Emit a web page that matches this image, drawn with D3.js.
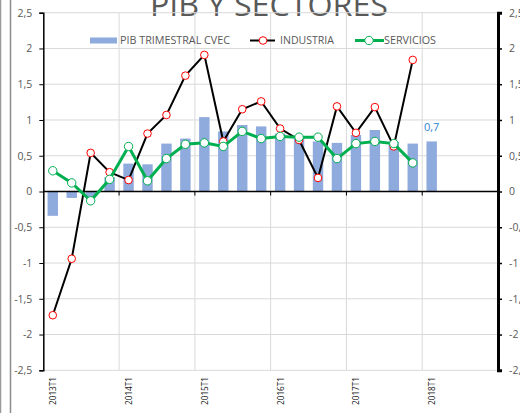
<!DOCTYPE html>
<html>
<head>
<meta charset="utf-8">
<script src="https://cdn.jsdelivr.net/npm/d3@7"></script>
<style>
  body { margin: 0; background: #fff; }
  svg { display: block; font-family: "Open Sans", sans-serif; }
</style>
</head>
<body>
<svg width="520" height="413"></svg>
<script>
// quarters 2013T1 .. 2018T4
var years = [2013, 2014, 2015, 2016, 2017, 2018];
var quarters = [];
years.forEach(function(y) { for (var q = 1; q <= 4; q++) quarters.push(y + "T" + q); });

var pib = [-0.34, -0.09, -0.08, 0.2, 0.39, 0.38, 0.67, 0.74, 1.04, 0.84, 0.93, 0.91,
           0.81, 0.75, 0.70, 0.68, 0.79, 0.86, 0.69, 0.67, 0.70];
var industria = [-1.73, -0.94, 0.54, 0.27, 0.16, 0.81, 1.07, 1.62, 1.91, 0.70, 1.15, 1.26,
                 0.88, 0.72, 0.19, 1.19, 0.82, 1.18, 0.63, 1.84];
var servicios = [0.29, 0.12, -0.13, 0.17, 0.63, 0.15, 0.46, 0.66, 0.68, 0.63, 0.84, 0.74,
                 0.77, 0.76, 0.76, 0.46, 0.67, 0.70, 0.67, 0.40];
var yTicks = [-2.5, -2, -1.5, -1, -0.5, 0, 0.5, 1, 1.5, 2, 2.5];

var svg = d3.select("svg");
var pLeft = 43.3, pRight = 498, pTop = 12.7, pBottom = 370.3;
var fmt = function(v) { return String(v).replace(".", ","); };

var x = d3.scaleBand().domain(quarters).range([pLeft, pRight])
  .paddingInner(0.45).paddingOuter(0.225);
var step = x.step();
var cx = function(i) { return x(quarters[i]) + x.bandwidth() / 2; };
var y = d3.scaleLinear().domain([-2.5, 2.5]).range([pBottom, pTop]);

// frame lines at left
svg.append("line").attr("x1", 0.5).attr("x2", 0.5).attr("y1", 0).attr("y2", 413)
  .attr("stroke", "#9a9a9a").attr("stroke-width", 1.5);
svg.append("line").attr("x1", 10.5).attr("x2", 10.5).attr("y1", 0).attr("y2", 413)
  .attr("stroke", "#8c8c8c").attr("stroke-width", 1.5);

// title (cut off at top)
svg.append("text").attr("x", 269).attr("y", 16).attr("text-anchor", "middle")
  .attr("font-size", 31).attr("fill", "#595959")
  .attr("textLength", 238).attr("lengthAdjust", "spacingAndGlyphs")
  .text("PIB Y SECTORES");

// horizontal grid
svg.append("g").selectAll("line").data(yTicks).enter().append("line")
  .attr("x1", pLeft).attr("x2", pRight)
  .attr("y1", function(d) { return y(d); }).attr("y2", function(d) { return y(d); })
  .attr("stroke", "#d9d9d9").attr("stroke-width", 1);

// vertical grid every 4 quarters at category boundaries
var vgrid = [4, 8, 12, 16, 20];
svg.append("g").selectAll("line").data(vgrid).enter().append("line")
  .attr("x1", function(d) { return pLeft + d * step; })
  .attr("x2", function(d) { return pLeft + d * step; })
  .attr("y1", pTop).attr("y2", pBottom)
  .attr("stroke", "#d9d9d9").attr("stroke-width", 1);

// bars
svg.append("g").selectAll("rect").data(pib).enter().append("rect")
  .attr("x", function(d, i) { return x(quarters[i]); })
  .attr("width", x.bandwidth())
  .attr("y", function(d) { return y(Math.max(0, d)); })
  .attr("height", function(d) { return Math.abs(y(d) - y(0)); })
  .attr("fill", "#8faadc");

// bar label for the last quarter
svg.append("text")
  .attr("x", cx(pib.length - 1)).attr("y", y(pib[pib.length - 1]) - 10)
  .attr("text-anchor", "middle").attr("font-size", 11).attr("fill", "#2e86d1")
  .text(fmt(pib[pib.length - 1]));

// zero axis with ticks every 4 quarters
svg.append("line").attr("x1", pLeft).attr("x2", pRight).attr("y1", y(0)).attr("y2", y(0))
  .attr("stroke", "#000").attr("stroke-width", 1.5);
svg.append("g").selectAll("line").data(vgrid).enter().append("line")
  .attr("x1", function(d) { return pLeft + d * step; })
  .attr("x2", function(d) { return pLeft + d * step; })
  .attr("y1", y(0)).attr("y2", y(0) + 4)
  .attr("stroke", "#000").attr("stroke-width", 1);

// left axis
var yAxisL = svg.append("g").attr("transform", "translate(" + pLeft + ",0)")
  .call(d3.axisLeft(y).tickValues(yTicks).tickSize(4).tickPadding(7).tickFormat(fmt));
yAxisL.select(".domain").attr("stroke", "#000").attr("stroke-width", 1.5);
yAxisL.selectAll(".tick line").attr("stroke", "#000");
yAxisL.selectAll("text").attr("font-size", 10.5).attr("fill", "#595959")
  .attr("font-family", "Open Sans, sans-serif");

// right axis
var yAxisR = svg.append("g").attr("transform", "translate(" + pRight + ",0)")
  .call(d3.axisRight(y).tickValues(yTicks).tickSize(4).tickPadding(7).tickFormat(fmt));
yAxisR.select(".domain").attr("stroke", "#000").attr("stroke-width", 3);
yAxisR.selectAll(".tick line").attr("stroke", "#000").attr("stroke-width", 1.5);
yAxisR.selectAll("text").attr("font-size", 10.5).attr("fill", "#595959")
  .attr("font-family", "Open Sans, sans-serif");

// x labels (rotated), one per year
svg.append("g").selectAll("text").data(years).enter().append("text")
  .attr("transform", function(d) {
    return "translate(" + (cx(quarters.indexOf(d + "T1")) + 0.5) + ",377) rotate(-90)";
  })
  .attr("text-anchor", "end").attr("dy", "0.35em")
  .attr("font-size", 8.5).attr("fill", "#111")
  .attr("textLength", 28).attr("lengthAdjust", "spacingAndGlyphs")
  .text(function(d) { return d + "T1"; });

// lines
var line = d3.line().x(function(d, i) { return cx(i); }).y(function(d) { return y(d); });

svg.append("path").datum(industria).attr("d", line)
  .attr("fill", "none").attr("stroke", "#000").attr("stroke-width", 2);
svg.append("g").selectAll("circle").data(industria).enter().append("circle")
  .attr("cx", function(d, i) { return cx(i); }).attr("cy", function(d) { return y(d); })
  .attr("r", 3.8).attr("fill", "#fff").attr("stroke", "#ff0000").attr("stroke-width", 1);

svg.append("path").datum(servicios).attr("d", line)
  .attr("fill", "none").attr("stroke", "#00b050").attr("stroke-width", 3);
svg.append("g").selectAll("circle").data(servicios).enter().append("circle")
  .attr("cx", function(d, i) { return cx(i); }).attr("cy", function(d) { return y(d); })
  .attr("r", 4.2).attr("fill", "#fff").attr("stroke", "#00b050").attr("stroke-width", 1);

// legend
var lg = svg.append("g").attr("font-size", 10).attr("fill", "#595959");
lg.append("rect").attr("x", 90).attr("y", 37.5).attr("width", 27).attr("height", 6).attr("fill", "#8faadc");
lg.append("text").attr("x", 120).attr("y", 44).attr("textLength", 110)
  .attr("lengthAdjust", "spacingAndGlyphs").text("PIB TRIMESTRAL CVEC");

lg.append("line").attr("x1", 250).attr("x2", 275).attr("y1", 40.5).attr("y2", 40.5)
  .attr("stroke", "#000").attr("stroke-width", 2);
lg.append("circle").attr("cx", 263).attr("cy", 40.5).attr("r", 3.8)
  .attr("fill", "#fff").attr("stroke", "#ff0000");
lg.append("text").attr("x", 280).attr("y", 44).attr("textLength", 54)
  .attr("lengthAdjust", "spacingAndGlyphs").text("INDUSTRIA");

lg.append("line").attr("x1", 355).attr("x2", 384).attr("y1", 40.5).attr("y2", 40.5)
  .attr("stroke", "#00b050").attr("stroke-width", 3);
lg.append("circle").attr("cx", 369).attr("cy", 40.5).attr("r", 4.2)
  .attr("fill", "#fff").attr("stroke", "#00b050");
lg.append("text").attr("x", 384).attr("y", 44).attr("textLength", 52)
  .attr("lengthAdjust", "spacingAndGlyphs").text("SERVICIOS");
</script>
</body>
</html>
